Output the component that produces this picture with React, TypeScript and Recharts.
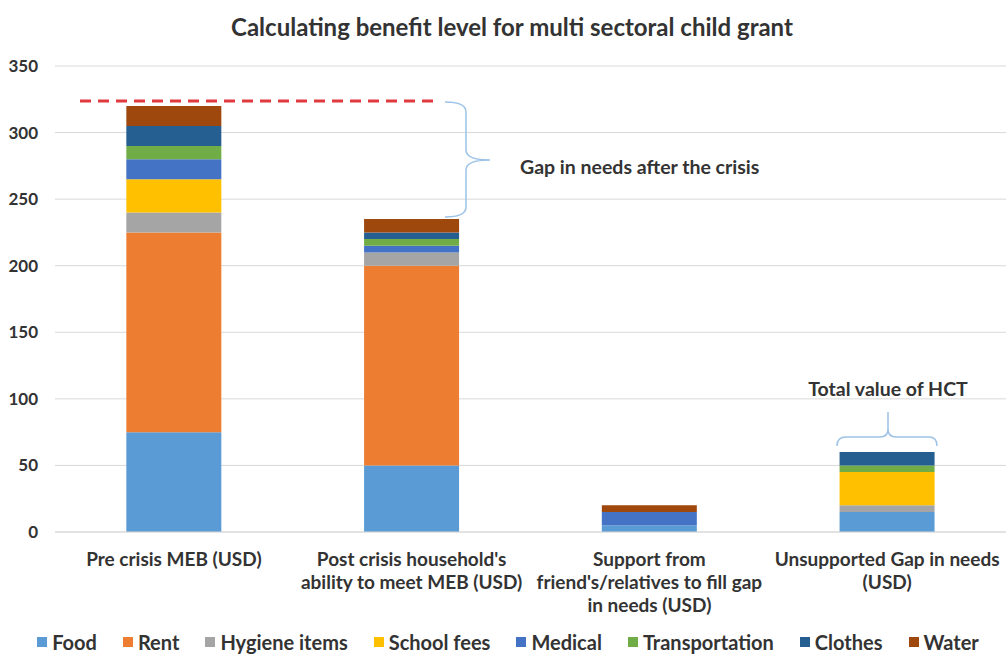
import { BarChart, Bar, XAxis, YAxis, CartesianGrid, Legend } from "recharts";

const categories = [
  "Pre crisis MEB (USD)",
  "Post crisis household's\nability to meet MEB (USD)",
  "Support from\nfriend's/relatives to fill gap\nin needs (USD)",
  "Unsupported Gap in needs\n(USD)",
];
const food = [75, 50, 5, 15];
const rent = [150, 150, 0, 0];
const hygiene = [15, 10, 0, 5];
const schoolFees = [25, 0, 0, 25];
const medical = [15, 5, 10, 0];
const transportation = [10, 5, 0, 5];
const clothes = [15, 5, 0, 10];
const water = [15, 10, 5, 0];
const yTicks = [0, 50, 100, 150, 200, 250, 300, 350];

const series = [
  { key: "Food", values: food, color: "#5b9bd5" },
  { key: "Rent", values: rent, color: "#ed7d31" },
  { key: "Hygiene items", values: hygiene, color: "#a5a5a5" },
  { key: "School fees", values: schoolFees, color: "#ffc000" },
  { key: "Medical", values: medical, color: "#4472c4" },
  { key: "Transportation", values: transportation, color: "#70ad47" },
  { key: "Clothes", values: clothes, color: "#255e91" },
  { key: "Water", values: water, color: "#9e480e" },
];

const data = categories.map((name, i) => {
  const row: Record<string, string | number> = { name };
  series.forEach((s) => (row[s.key] = s.values[i]));
  return row;
});

const W = 1006;
const H = 654;
const FONT = "Lato, 'Open Sans', sans-serif";
const TEXT = "#333333";
const BRACE = "#9dc3e6";

function XTick(props: any) {
  const { x, y, payload } = props;
  const lines = String(payload.value).split("\n");
  return (
    <text
      x={x}
      y={y + 26}
      textAnchor="middle"
      fill={TEXT}
      fontFamily={FONT}
      fontWeight={700}
      fontSize={19}
    >
      {lines.map((l, i) => (
        <tspan key={i} x={x} dy={i === 0 ? 0 : 23}>
          {l}
        </tspan>
      ))}
    </text>
  );
}

function LegendContent() {
  return (
    <div
      style={{
        height: 24,
        lineHeight: "24px",
        display: "flex",
        justifyContent: "center",
        alignItems: "center",
        gap: 26,
        fontFamily: FONT,
        fontWeight: 700,
        fontSize: 20,
        color: TEXT,
        paddingLeft: 10,
        whiteSpace: "nowrap",
      }}
    >
      {series.map((s) => (
        <div key={s.key} style={{ display: "flex", alignItems: "center" }}>
          <span
            style={{
              width: 10,
              height: 10,
              background: s.color,
              display: "inline-block",
              marginRight: 5,
            }}
          />
          {s.key}
        </div>
      ))}
    </div>
  );
}

export default function App() {
  return (
    <div style={{ position: "absolute", left: 0, top: 0, width: W, height: H, background: "#fff" }}>
      <BarChart
        width={W}
        height={H}
        data={data}
        margin={{ top: 66, right: 0, left: 0, bottom: 0 }}
        barCategoryGap="30%"
      >
        <CartesianGrid vertical={false} stroke="#d9d9d9" />
        <XAxis
          dataKey="name"
          tick={<XTick />}
          tickLine={false}
          axisLine={{ stroke: "#d9d9d9" }}
          height={98}
          interval={0}
        />
        <YAxis
          domain={[0, 350]}
          ticks={yTicks}
          width={55}
          tickLine={false}
          axisLine={false}
          tickMargin={11}
          tick={{ fill: TEXT, fontFamily: FONT, fontWeight: 700, fontSize: 17 }}
        />
        <Legend verticalAlign="bottom" content={<LegendContent />} />
        {series.map((s) => (
          <Bar
            key={s.key}
            dataKey={s.key}
            stackId="a"
            fill={s.color}
            isAnimationActive={false}
          />
        ))}
      </BarChart>
      <svg
        width={W}
        height={H}
        style={{ position: "absolute", left: 0, top: 0, pointerEvents: "none" }}
      >
        <text
          x={512}
          y={36}
          textAnchor="middle"
          fill={TEXT}
          fontFamily={FONT}
          fontWeight={700}
          fontSize={24}
        >
          Calculating benefit level for multi sectoral child grant
        </text>
        <line
          x1={80}
          y1={101}
          x2={440}
          y2={101}
          stroke="#e0393e"
          strokeWidth={3}
          strokeDasharray="11 7"
        />
        <path
          d="M445,102 Q466,102 466,112 L466,150 Q466,160 490,160 Q466,160 466,170 L466,207 Q466,217 445,217"
          fill="none"
          stroke={BRACE}
          strokeWidth={1.5}
        />
        <text x={520} y={174} fill={TEXT} fontFamily={FONT} fontWeight={700} fontSize={19.5}>
          Gap in needs after the crisis
        </text>
        <path
          d="M837,446 Q837,437 846,437 L880,437 Q888,437 888,429 L888,412 M888,429 Q888,437 896,437 L929,437 Q937,437 937,446"
          fill="none"
          stroke={BRACE}
          strokeWidth={1.5}
        />
        <text
          x={888}
          y={396}
          textAnchor="middle"
          fill={TEXT}
          fontFamily={FONT}
          fontWeight={700}
          fontSize={19.5}
        >
          Total value of HCT
        </text>
      </svg>
    </div>
  );
}
